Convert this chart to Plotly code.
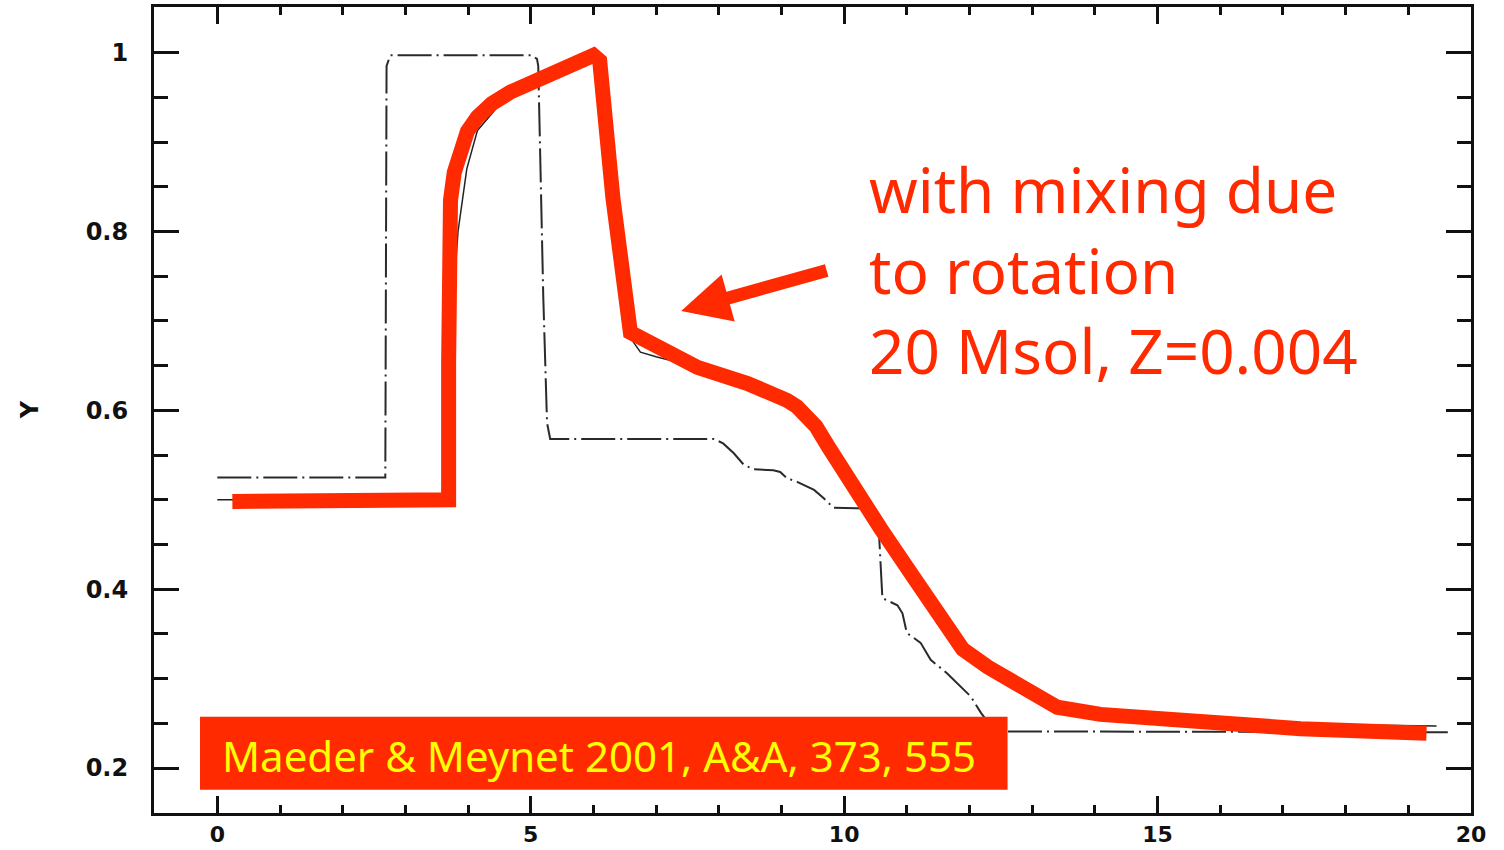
import plotly.graph_objects as go

# ---------------- data ----------------
# non-rotating model (thin dash-dot curve)
x_norot = [0.0, 2.68, 2.70, 2.76, 5.00, 5.10, 5.12, 5.15, 5.20, 5.26, 5.31, 7.92, 8.07, 8.24, 8.40,
           8.56, 8.87, 8.98, 9.09, 9.25, 9.41, 9.52, 9.67, 9.83, 10.45, 10.55, 10.61, 10.85,
           10.93, 11.00, 11.22, 11.38, 11.64, 11.80, 12.02, 12.18, 12.40, 19.63]
y_norot = [0.525, 0.525, 0.985, 0.997, 0.997, 0.993, 0.985, 0.876, 0.727, 0.586, 0.568, 0.568, 0.563,
           0.552, 0.539, 0.534, 0.533, 0.531, 0.524, 0.520, 0.515, 0.511, 0.502, 0.491, 0.490,
           0.470, 0.390, 0.382, 0.373, 0.351, 0.340, 0.321, 0.306, 0.295, 0.280, 0.262, 0.241, 0.240]

# rotating model, underlying thin solid curve
x_rot_thin = [0.0, 3.70, 3.74, 3.84, 3.98, 4.15, 4.60, 5.42, 6.00, 6.10, 6.31, 6.50, 6.75, 7.00,
              7.66, 8.46, 9.09, 9.41, 10.05, 10.58, 11.11, 11.65, 11.89, 12.29, 12.70, 13.00,
              13.40, 14.09, 15.69, 17.28, 19.45]
y_rot_thin = [0.500, 0.500, 0.700, 0.800, 0.870, 0.913, 0.950, 0.980, 0.997, 0.991, 0.838, 0.690,
              0.665, 0.660, 0.648, 0.630, 0.611, 0.592, 0.525, 0.468, 0.413, 0.357, 0.333, 0.313,
              0.295, 0.280, 0.268, 0.260, 0.252, 0.249, 0.247]

# rotating model, highlighted thick red curve
x_rot = [0.24, 3.66, 3.69, 3.69, 3.69, 3.72, 3.78, 3.87, 3.99, 4.15, 4.38, 4.68, 5.05, 5.50,
         6.00, 6.10, 6.31, 6.59, 6.86, 7.66, 8.46, 8.80, 9.09, 9.25, 9.40, 9.55, 9.75, 10.05,
         10.58, 11.11, 11.65, 11.89, 12.29, 12.70, 13.00, 13.40, 14.09, 15.69, 17.28, 19.29]
y_rot = [0.498, 0.498, 0.500, 0.653, 0.801, 0.835, 0.866, 0.892, 0.912, 0.928, 0.943, 0.956,
         0.968, 0.981, 0.997, 0.991, 0.838, 0.687, 0.676, 0.648, 0.630, 0.621, 0.611, 0.604,
         0.594, 0.582, 0.559, 0.525, 0.468, 0.413, 0.357, 0.333, 0.313, 0.295, 0.282, 0.268,
         0.260, 0.250, 0.244, 0.239]

x_tickvals = [0, 5, 10, 15, 20]
x_ticktext = ["0", "5", "10", "15", "20"]
y_tickvals = [0.2, 0.4, 0.6, 0.8, 1.0]
y_ticktext = ["0.2", "0.4", "0.6", "0.8", "1"]

label_text = "with mixing due<br>to rotation<br>20 Msol, Z=0.004"
ref_text = "Maeder &amp; Meynet 2001, A&amp;A, 373, 555"
ytitle = "Y"

RED = "#ff2a00"

fig = go.Figure()
fig.add_trace(go.Scatter(x=x_norot, y=y_norot, mode="lines",
                         line=dict(color="#2a2a2a", width=2, dash="34px,5px,2px,5px"),
                         hoverinfo="skip", showlegend=False))
fig.add_trace(go.Scatter(x=x_rot_thin, y=y_rot_thin, mode="lines",
                         line=dict(color="#222222", width=1.5),
                         hoverinfo="skip", showlegend=False))
fig.add_trace(go.Scatter(x=x_rot, y=y_rot, mode="lines",
                         line=dict(color=RED, width=15),
                         hoverinfo="skip", showlegend=False))

yfont = dict(family="DejaVu Sans", size=24, color="#111111", weight="bold")
xfont = dict(family="DejaVu Sans", size=22, color="#111111", weight="bold")

fig.update_xaxes(range=[-1.01, 20.0], showgrid=False, zeroline=False,
                 showline=True, linewidth=3, linecolor="#111111", mirror="allticks",
                 ticks="inside", ticklen=17, tickwidth=2.5, tickcolor="#111111",
                 tickvals=x_tickvals, ticktext=x_ticktext, tickfont=xfont,
                 ticklabelstandoff=0,
                 minor=dict(ticks="inside", dtick=1, tick0=0, ticklen=8, tickwidth=2.5,
                            tickcolor="#111111"))
fig.update_yaxes(range=[0.1497, 1.051], showgrid=False, zeroline=False,
                 showline=True, linewidth=3, linecolor="#111111", mirror="allticks",
                 ticks="inside", ticklen=25, tickwidth=2.5, tickcolor="#111111",
                 tickvals=y_tickvals, ticktext=y_ticktext, tickfont=yfont,
                 ticklabelstandoff=18,
                 minor=dict(ticks="inside", dtick=0.05, tick0=0, ticklen=14, tickwidth=2.5,
                            tickcolor="#111111"))

# reference box
fig.add_shape(type="rect", xref="x", yref="y", x0=-0.276, x1=12.607, y0=0.1757, y1=0.2573,
              fillcolor=RED, line=dict(width=0), layer="above")

fig.add_annotation(xref="x", yref="y", x=0.043, y=0.2137, xanchor="left", yanchor="middle",
                   text=ref_text, showarrow=False,
                   font=dict(family="Noto Sans", size=42, color="#ffff00"))

fig.add_annotation(xref="x", yref="y", x=10.37, y=0.757, xanchor="left", yanchor="middle",
                   text=label_text, showarrow=False, align="left",
                   font=dict(family="Noto Sans", size=62, color=RED))

# arrow
fig.add_annotation(xref="x", yref="y", x=7.40, y=0.711, ax=147, ay=-41, text="",
                   showarrow=True, arrowhead=2, arrowsize=0.75, arrowwidth=13,
                   arrowcolor=RED, standoff=0)

# y axis title
fig.add_annotation(xref="paper", yref="paper", x=-0.094, y=0.5, text=ytitle,
                   textangle=-90, showarrow=False, xanchor="center", yanchor="middle",
                   font=dict(family="DejaVu Sans", size=24, color="#111111", weight="bold"))

fig.update_layout(width=1504, height=850, margin=dict(l=154, r=33, t=7, b=37, autoexpand=False),
                  paper_bgcolor="white", plot_bgcolor="white", showlegend=False)

fig.write_html("out.html")
